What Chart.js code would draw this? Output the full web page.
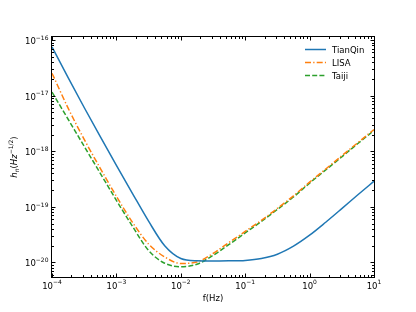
<!DOCTYPE html>
<html>
<head>
<meta charset="utf-8">
<script src="https://cdn.jsdelivr.net/npm/chart.js@4.4.1/dist/chart.umd.min.js"></script>
<style>
    html, body { margin: 0; padding: 0; background: #fff; }
    #chart-wrap { width: 416px; height: 312px; }
</style>
</head>
<body>
<div id="chart-wrap"><canvas id="sensitivity-chart" width="416" height="312"></canvas></div>
<script>
'use strict';

// Frequencies (Hz), quarter-decade steps from 1e-4 to 1e1
const freqs = [1e-4, 1.78e-4, 3.16e-4, 5.62e-4, 1e-3, 1.78e-3, 3.16e-3, 5.62e-3,
    1e-2, 1.78e-2, 3.16e-2, 5.62e-2, 0.1, 0.178, 0.316, 0.562, 1, 1.78, 3.16, 5.62, 10];

// Sensitivity h_n (Hz^-1/2)
const tianqin = [7.55e-17, 2.11e-17, 6.13e-18, 1.83e-18, 5.6e-19, 1.74e-19, 5.53e-20, 2.0e-20,
    1.18e-20, 1.07e-20, 1.06e-20, 1.07e-20, 1.09e-20, 1.18e-20, 1.41e-20, 1.97e-20,
    3.1e-20, 5.3e-20, 9.3e-20, 1.65e-19, 2.9e-19];
const lisa = [2.54e-17, 5.96e-18, 1.64e-18, 4.94e-19, 1.55e-19, 5.26e-20, 2.15e-20, 1.26e-20,
    9.6e-21, 1.02e-20, 1.45e-20, 2.29e-20, 3.62e-20, 5.71e-20, 9.4e-20, 1.58e-19,
    2.78e-19, 4.8e-19, 8.3e-19, 1.43e-18, 2.47e-18];
const taiji = [1.16e-17, 3.77e-18, 1.23e-18, 4.02e-19, 1.31e-19, 4.46e-20, 1.64e-20, 9.7e-21,
    8.4e-21, 9.3e-21, 1.34e-20, 2.11e-20, 3.4e-20, 5.48e-20, 9.0e-20, 1.51e-19,
    2.68e-19, 4.62e-19, 7.95e-19, 1.38e-18, 2.37e-18];

// Tick label exponents (labels are 10^n)
const xTickExps = [-4, -3, -2, -1, 0, 1];
const yTickExps = [-20, -19, -18, -17, -16];

const seriesNames = ['TianQin', 'LISA', 'Taiji'];
const seriesColors = ['#1f77b4', '#ff7f0e', '#2ca02c'];
const seriesDashes = [[], [6, 2.2, 1.3, 2.2], [5, 2.2]];

const FONT = '"DejaVu Sans", sans-serif';

function setFont(ctx, run) {
    ctx.font = (run.italic ? 'italic ' : '') + run.size + 'px ' + FONT;
}

function runsWidth(ctx, runs) {
    let w = 0;
    runs.forEach(function(r) {
        setFont(ctx, r);
        w += ctx.measureText(r.text).width;
    });
    return w;
}

// x = left edge, y = baseline
function drawRuns(ctx, runs, x, y) {
    runs.forEach(function(r) {
        setFont(ctx, r);
        ctx.fillText(r.text, x, y + (r.dy || 0));
        x += ctx.measureText(r.text).width;
    });
}

function powerLabel(exp) {
    const e = (exp < 0 ? '\u2212' : '') + Math.abs(exp);
    return [{ text: '10', size: 8.5 }, { text: e, size: 6, dy: -4.2 }];
}

// Matplotlib-like frame: inward ticks on all four sides, 10^n labels, titles, legend
const framePlugin = {
    id: 'frame',
    afterDraw: function(chart) {
        const ctx = chart.ctx;
        const area = chart.chartArea;
        const xs = chart.scales.x;
        const ys = chart.scales.y;
        ctx.save();
        ctx.strokeStyle = '#000';
        ctx.fillStyle = '#000';
        ctx.lineWidth = 1;
        ctx.setLineDash([]);
        ctx.strokeRect(area.left - 0.5, area.top - 0.5, area.right - area.left + 1, area.bottom - area.top + 1);

        ctx.beginPath();
        for (let d = -4; d <= 1; d++) {
            for (let k = 1; k <= 9; k++) {
                const v = k * Math.pow(10, d);
                if (v < xs.min * 0.999 || v > xs.max * 1.001) continue;
                const px = Math.round(xs.getPixelForValue(v)) + 0.5;
                const len = k === 1 ? 3.5 : 2;
                ctx.moveTo(px, area.bottom); ctx.lineTo(px, area.bottom - len);
                ctx.moveTo(px, area.top); ctx.lineTo(px, area.top + len);
            }
        }
        for (let d = -21; d <= -16; d++) {
            for (let k = 1; k <= 9; k++) {
                const v = k * Math.pow(10, d);
                if (v < ys.min || v > ys.max) continue;
                const py = Math.round(ys.getPixelForValue(v)) + 0.5;
                const len = k === 1 ? 3.5 : 2;
                ctx.moveTo(area.left, py); ctx.lineTo(area.left + len, py);
                ctx.moveTo(area.right, py); ctx.lineTo(area.right - len, py);
            }
        }
        ctx.stroke();

        ctx.textBaseline = 'alphabetic';
        xTickExps.forEach(function(e) {
            const runs = powerLabel(e);
            const w = runsWidth(ctx, runs);
            const px = xs.getPixelForValue(Math.pow(10, e));
            drawRuns(ctx, runs, px - w / 2, area.bottom + 11.5);
        });
        yTickExps.forEach(function(e) {
            const runs = powerLabel(e);
            const w = runsWidth(ctx, runs);
            const py = ys.getPixelForValue(Math.pow(10, e));
            drawRuns(ctx, runs, area.left - 3.5 - w, py + 4);
        });

        // x title
        const xt = [{ text: 'f(Hz)', size: 8.5 }];
        drawRuns(ctx, xt, (area.left + area.right) / 2 - runsWidth(ctx, xt) / 2, 300.5);

        // y title, rotated
        const yt = [
            { text: 'h', size: 8.5, italic: true },
            { text: 'n', size: 6, italic: true, dy: 1.8 },
            { text: '(', size: 8.5 },
            { text: 'Hz', size: 8.5, italic: true },
            { text: '\u22121/2', size: 6, dy: -4 },
            { text: ')', size: 8.5 }
        ];
        ctx.save();
        ctx.translate(14, (area.top + area.bottom) / 2);
        ctx.rotate(-Math.PI / 2);
        drawRuns(ctx, yt, -runsWidth(ctx, yt) / 2, 3);
        ctx.restore();

        // legend
        seriesNames.forEach(function(name, i) {
            const ly = 49 + 13 * i;
            ctx.strokeStyle = seriesColors[i];
            ctx.lineWidth = 1.5;
            ctx.setLineDash(seriesDashes[i]);
            ctx.beginPath();
            ctx.moveTo(305, ly + 0.5);
            ctx.lineTo(326, ly + 0.5);
            ctx.stroke();
            ctx.setLineDash([]);
            ctx.fillStyle = '#000';
            drawRuns(ctx, [{ text: name, size: 8.5 }], 332, ly + 3.5);
        });
        ctx.restore();
    }
};

function buildDataset(values, i) {
    return {
        label: seriesNames[i],
        data: freqs.map(function(f, j) { return { x: f, y: values[j] }; }),
        borderColor: seriesColors[i],
        borderDash: seriesDashes[i],
        borderWidth: 1.5,
        pointRadius: 0,
        fill: false,
        cubicInterpolationMode: 'monotone'
    };
}

const ctx = document.getElementById('sensitivity-chart').getContext('2d');
const chart = new Chart(ctx, {
    type: 'line',
    data: {
        datasets: [buildDataset(tianqin, 0), buildDataset(lisa, 1), buildDataset(taiji, 2)]
    },
    options: {
        responsive: false,
        devicePixelRatio: 1,
        animation: false,
        layout: { padding: { left: 52, right: 42, top: 37, bottom: 35 } },
        plugins: {
            legend: { display: false },
            tooltip: { enabled: false }
        },
        scales: {
            x: { type: 'logarithmic', min: 1e-4, max: 10, display: false },
            y: { type: 'logarithmic', min: 5.48e-21, max: 1.137e-16, display: false }
        }
    },
    plugins: [framePlugin]
});
</script>
</body>
</html>
